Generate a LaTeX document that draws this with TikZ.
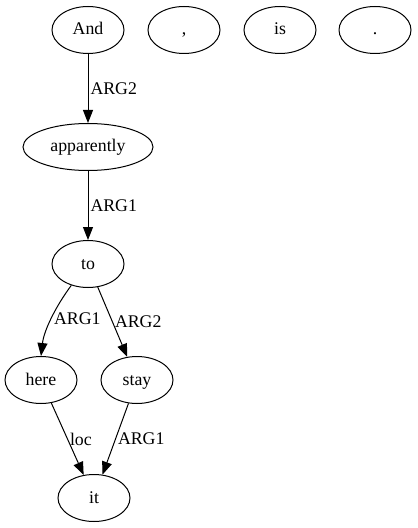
\documentclass[tikz,border=0pt]{standalone}
\usepackage{fontspec}
\setmainfont{Liberation Serif}
\usepackage{tikz}
\usetikzlibrary{arrows.meta, shapes.geometric}

\tikzset{
  tok/.style={draw, ellipse, line width=1bp, inner sep=0pt,
    minimum width=72bp, minimum height=47bp, text height=13bp, text depth=3bp},
  lab/.style={right, inner sep=2bp},
  edge/.style={line width=1bp, -{Triangle[length=13bp, width=10bp]}}
}

\begin{document}
\begin{tikzpicture}[x=1bp, y=-1bp, font=\fontsize{17.8bp}{20bp}\selectfont]
\useasboundingbox (0, 0) rectangle (417, 528);

\node[tok] (and) at (88, 30){And};
\node[tok] (comma) at (184, 30){,};
\node[tok] (is) at (280, 30){is};
\node[tok] (stop) at (375, 30){.};

\node[tok, minimum width=130bp] (apparently) at (88, 147){apparently};
\node[tok] (to) at (88, 264){to};
\node[tok] (here) at (41, 380){here};
\node[tok] (stay) at (137, 380){stay};
\node[tok] (it) at (94, 498){it};

\draw[edge] (and) -- node[lab]{ARG2} (apparently);
\draw[edge] (apparently) -- node[lab]{ARG1} (to);
\draw[edge] (to.232) .. controls (56, 306) and (44, 330) .. node[lab]{ARG1} (here.north);
\draw[edge] (to) -- node[lab]{ARG2} (stay);
\draw[edge] (here) -- node[lab]{loc} (it);
\draw[edge] (stay) -- node[lab]{ARG1} (it);
\end{tikzpicture}
\end{document}
